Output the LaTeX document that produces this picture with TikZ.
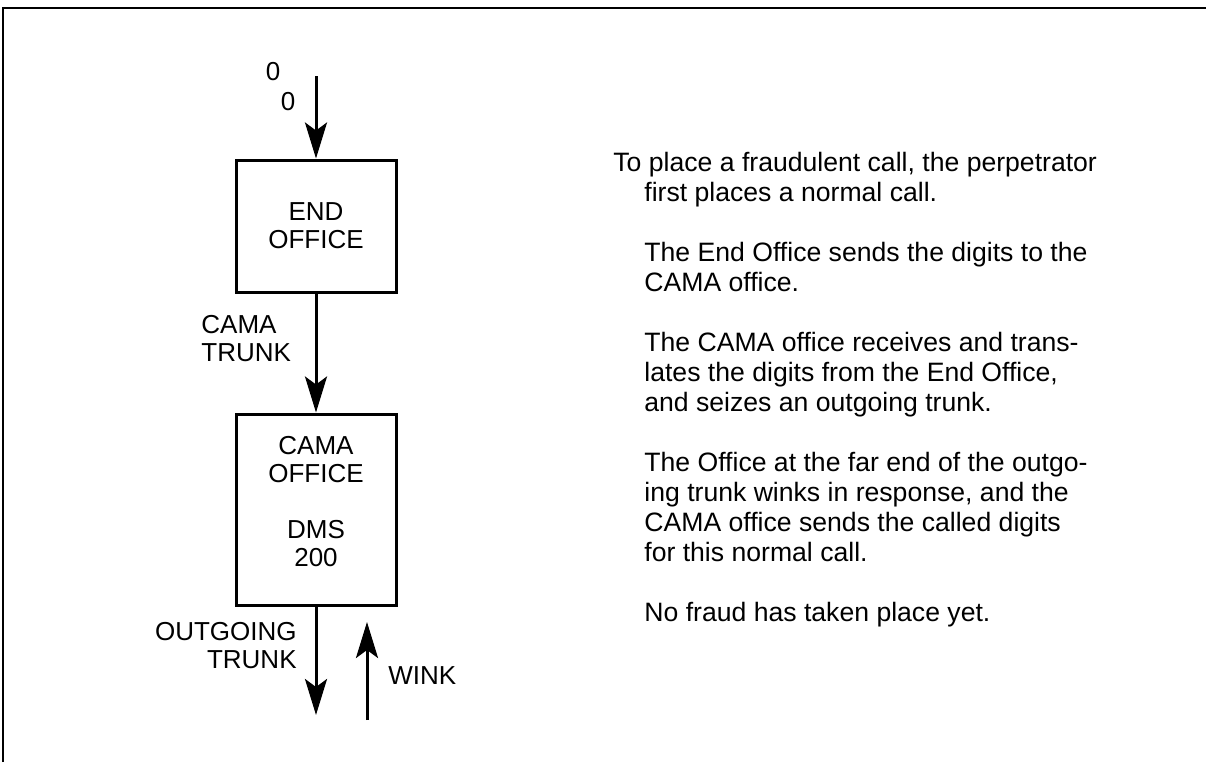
\documentclass[tikz,border=0pt]{standalone}
\usepackage{fontspec}
\setmainfont{Liberation Sans}
\usetikzlibrary{arrows.meta}

\tikzset{
    office/.style = {draw, line width=1.5pt, minimum width=80pt, inner sep=0pt, align=center, font=\fontsize{13}{14}\selectfont},
    lbl/.style = {inner sep=0pt, font=\fontsize{13}{14}\selectfont},
    sig/.style = {line width=1.5pt, -{Stealth[length=18pt, width=11pt, inset=4pt]}},
}

\begin{document}
\begin{tikzpicture}[x=0.5pt, y=-0.5pt]
    \useasboundingbox (0, 0) rectangle (1206, 762);
    \draw[line width=1.2pt] (3, 762) -- (3, 8) -- (1206, 8);

    \node[office, minimum height=66pt] (end) at (316, 226) {END\\OFFICE};
    \node[office, minimum height=95.5pt, text depth=8pt] (cama) at (316, 509.5) {CAMA\\OFFICE\\[14pt]DMS\\200};

    \coordinate (dial) at (316, 76);
    \coordinate (out) at (316, 715);
    \coordinate (winkfoot) at (367, 720);
    \coordinate (winktip) at (367, 622);

    \draw[sig] (dial) -- (end);
    \draw[sig] (end) -- (cama);
    \draw[sig] (cama) -- (out);
    \draw[sig] (winkfoot) -- (winktip);

    \node[lbl] (digit1) at (273, 72) {0};
    \node[lbl] (digit2) at (288, 102) {0};
    \node[lbl, align=left, anchor=west] (trunk) at (201, 339) {CAMA\\TRUNK};
    \node[lbl, align=right, anchor=east] (outtrunk) at (297, 646) {OUTGOING\\TRUNK};
    \node[lbl, anchor=west] (wink) at (388, 676) {WINK};

    % steps of the call
    \node[lbl, align=left, anchor=west, font=\fontsize{13.3}{15}\selectfont] (notes) at (644, 390) {%
        \hspace*{-15.5pt}To place a fraudulent call, the perpetrator\\
        first places a normal call.\\[15pt]
        The End Office sends the digits to the\\
        CAMA office.\\[15pt]
        The CAMA office receives and trans-\\
        lates the digits from the End Office,\\
        and seizes an outgoing trunk.\\[15pt]
        The Office at the far end of the outgo-\\
        ing trunk winks in response, and the\\
        CAMA office sends the called digits\\
        for this normal call.\\[15pt]
        No fraud has taken place yet.};
\end{tikzpicture}
\end{document}
